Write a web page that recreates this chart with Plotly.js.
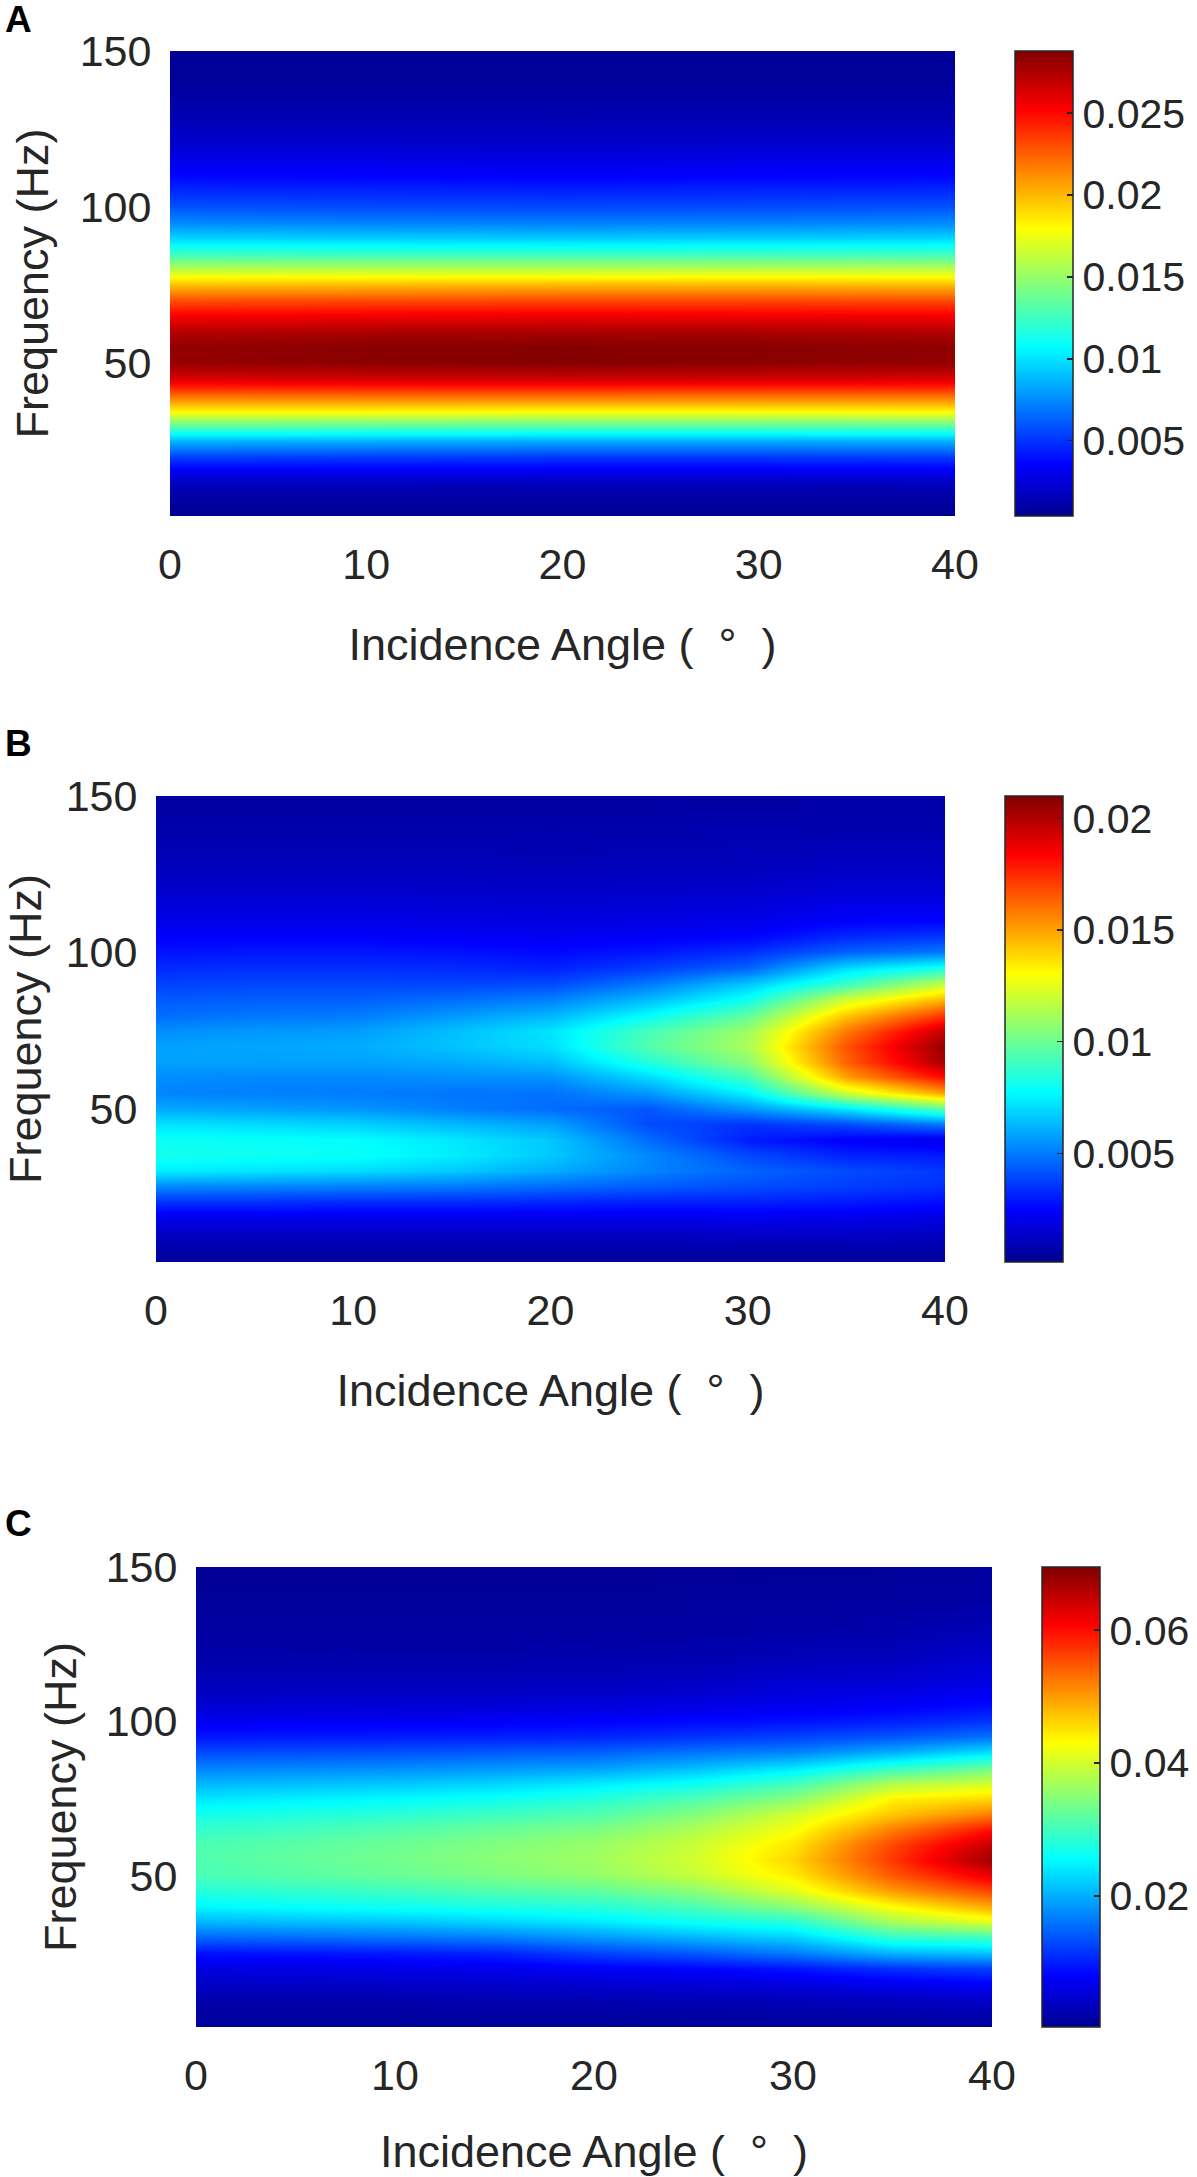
<!DOCTYPE html>
<html>
<head>
<meta charset="utf-8">
<script src="https://cdn.plot.ly/plotly-3.0.1.min.js"></script>
<style>
  html, body { margin: 0; padding: 0; background: #ffffff; }
  #chart { width: 1197px; height: 2177px; }
</style>
</head>
<body>
<div id="chart"></div>
<script>
// ---------------- DATA ----------------
const freqs = [1,5,10,15,20,25,30,35,40,45,50,55,60,65,70,75,80,85,90,95,100,105,110,120,130,140,150];

// Panel A : angles 0,10,20,30,40 ; each list = values along freqs
const anglesA = [0,10,20,30,40];
const A_0deg  = [0.0005,0.0008,0.0014,0.0030,0.0053,0.0086,0.0133,0.0185,0.0225,0.0262,0.0281,0.0283,0.0273,0.0254,0.0231,0.0199,0.0160,0.0125,0.0096,0.0075,0.0059,0.0047,0.0037,0.0022,0.0013,0.0008,0.0006];
const A_10deg = [0.0005,0.0008,0.0014,0.0030,0.0052,0.0085,0.0132,0.0185,0.0226,0.0264,0.0284,0.0286,0.0276,0.0256,0.0232,0.0200,0.0160,0.0124,0.0094,0.0073,0.0057,0.0046,0.0036,0.0022,0.0013,0.0008,0.0006];
const A_20deg = [0.0005,0.0008,0.0014,0.0029,0.0051,0.0084,0.0131,0.0184,0.0226,0.0265,0.0286,0.0287,0.0277,0.0257,0.0233,0.0201,0.0160,0.0124,0.0093,0.0072,0.0056,0.0045,0.0035,0.0021,0.0013,0.0008,0.0006];
const A_30deg = [0.0005,0.0008,0.0014,0.0029,0.0051,0.0084,0.0131,0.0184,0.0225,0.0264,0.0284,0.0286,0.0276,0.0256,0.0233,0.0201,0.0161,0.0125,0.0094,0.0073,0.0057,0.0046,0.0036,0.0022,0.0013,0.0008,0.0006];
const A_40deg = [0.0005,0.0008,0.0014,0.0030,0.0052,0.0085,0.0132,0.0185,0.0225,0.0262,0.0282,0.0284,0.0274,0.0255,0.0232,0.0200,0.0161,0.0126,0.0096,0.0075,0.0059,0.0047,0.0037,0.0022,0.0013,0.0008,0.0006];

// Panel B : angles 0..40 step 5
const anglesBC = [0,5,10,15,20,25,30,35,40];
const B_0deg  = [0.0004,0.0007,0.0012,0.0020,0.0033,0.0052,0.0074,0.0081,0.0080,0.0072,0.0060,0.0052,0.0054,0.0058,0.0058,0.0054,0.0047,0.0043,0.0038,0.0033,0.0028,0.0024,0.0020,0.0014,0.0010,0.0007,0.0005];
const B_5deg  = [0.0004,0.0007,0.0012,0.0020,0.0033,0.0051,0.0072,0.0080,0.0079,0.0070,0.0058,0.0051,0.0053,0.0058,0.0059,0.0056,0.0049,0.0044,0.0039,0.0034,0.0029,0.0024,0.0020,0.0014,0.0010,0.0007,0.0005];
const B_10deg = [0.0004,0.0007,0.0012,0.0020,0.0032,0.0050,0.0070,0.0079,0.0078,0.0068,0.0056,0.0050,0.0053,0.0058,0.0060,0.0057,0.0050,0.0044,0.0039,0.0034,0.0029,0.0024,0.0020,0.0014,0.0010,0.0007,0.0005];
const B_15deg = [0.0004,0.0007,0.0012,0.0020,0.0032,0.0049,0.0066,0.0074,0.0073,0.0063,0.0051,0.0049,0.0054,0.0060,0.0065,0.0064,0.0056,0.0047,0.0039,0.0033,0.0028,0.0023,0.0019,0.0013,0.0010,0.0007,0.0005];
const B_20deg = [0.0004,0.0007,0.0012,0.0020,0.0031,0.0046,0.0060,0.0066,0.0066,0.0058,0.0047,0.0048,0.0055,0.0064,0.0071,0.0072,0.0062,0.0051,0.0040,0.0031,0.0026,0.0022,0.0018,0.0013,0.0009,0.0007,0.0005];
const B_25deg = [0.0004,0.0007,0.0012,0.0020,0.0030,0.0043,0.0052,0.0053,0.0047,0.0040,0.0042,0.0056,0.0070,0.0085,0.0095,0.0092,0.0078,0.0063,0.0050,0.0037,0.0029,0.0023,0.0019,0.0013,0.0010,0.0007,0.0005];
const B_30deg = [0.0004,0.0007,0.0013,0.0021,0.0030,0.0040,0.0045,0.0040,0.0030,0.0035,0.0055,0.0075,0.0092,0.0106,0.0113,0.0110,0.0097,0.0080,0.0066,0.0045,0.0034,0.0025,0.0020,0.0014,0.0010,0.0008,0.0005];
const B_35deg = [0.0004,0.0007,0.0013,0.0020,0.0029,0.0037,0.0040,0.0032,0.0023,0.0040,0.0072,0.0120,0.0150,0.0163,0.0166,0.0158,0.0142,0.0120,0.0090,0.0070,0.0045,0.0033,0.0024,0.0016,0.0011,0.0008,0.0006];
const B_40deg = [0.0004,0.0007,0.0012,0.0018,0.0026,0.0034,0.0036,0.0030,0.0020,0.0050,0.0095,0.0150,0.0182,0.0202,0.0206,0.0196,0.0172,0.0145,0.0118,0.0082,0.0050,0.0036,0.0025,0.0016,0.0011,0.0008,0.0006];

// Panel C : angles 0..40 step 5
const C_0deg  = [0.0010,0.0015,0.0024,0.0040,0.0060,0.0090,0.0150,0.0205,0.0250,0.0280,0.0305,0.0310,0.0308,0.0290,0.0268,0.0240,0.0205,0.0170,0.0130,0.0095,0.0070,0.0050,0.0036,0.0022,0.0015,0.0011,0.0008];
const C_5deg  = [0.0010,0.0015,0.0025,0.0041,0.0062,0.0093,0.0155,0.0210,0.0257,0.0288,0.0315,0.0322,0.0318,0.0300,0.0276,0.0247,0.0210,0.0173,0.0133,0.0097,0.0071,0.0051,0.0037,0.0022,0.0015,0.0011,0.0008];
const C_10deg = [0.0010,0.0015,0.0025,0.0042,0.0064,0.0097,0.0160,0.0215,0.0263,0.0297,0.0326,0.0334,0.0330,0.0312,0.0285,0.0254,0.0216,0.0177,0.0136,0.0099,0.0072,0.0052,0.0037,0.0023,0.0015,0.0011,0.0008];
const C_15deg = [0.0010,0.0016,0.0026,0.0044,0.0068,0.0103,0.0168,0.0225,0.0273,0.0310,0.0340,0.0350,0.0345,0.0327,0.0298,0.0265,0.0225,0.0184,0.0141,0.0102,0.0074,0.0053,0.0038,0.0023,0.0015,0.0011,0.0008];
const C_20deg = [0.0010,0.0016,0.0028,0.0048,0.0075,0.0125,0.0185,0.0240,0.0280,0.0320,0.0355,0.0365,0.0360,0.0340,0.0310,0.0282,0.0240,0.0190,0.0146,0.0105,0.0078,0.0057,0.0040,0.0024,0.0016,0.0011,0.0008];
const C_25deg = [0.0011,0.0017,0.0030,0.0052,0.0082,0.0140,0.0205,0.0262,0.0305,0.0350,0.0390,0.0400,0.0395,0.0375,0.0345,0.0310,0.0262,0.0210,0.0160,0.0115,0.0085,0.0062,0.0044,0.0026,0.0017,0.0012,0.0008];
const C_30deg = [0.0011,0.0018,0.0033,0.0058,0.0095,0.0165,0.0225,0.0280,0.0350,0.0410,0.0443,0.0460,0.0450,0.0425,0.0400,0.0350,0.0300,0.0240,0.0170,0.0125,0.0090,0.0068,0.0055,0.0032,0.0020,0.0013,0.0009];
const C_35deg = [0.0012,0.0020,0.0038,0.0068,0.0115,0.0205,0.0290,0.0370,0.0430,0.0500,0.0545,0.0570,0.0560,0.0520,0.0470,0.0440,0.0375,0.0290,0.0200,0.0140,0.0100,0.0075,0.0058,0.0035,0.0022,0.0014,0.0010];
const C_40deg = [0.0014,0.0024,0.0045,0.0075,0.0125,0.0215,0.0300,0.0410,0.0490,0.0560,0.0620,0.0675,0.0650,0.0595,0.0520,0.0460,0.0400,0.0330,0.0235,0.0160,0.0115,0.0088,0.0068,0.0048,0.0030,0.0018,0.0012];

// Colour limits and colourbar ticks
const climA = [0.0004, 0.0288];
const climB = [0.00013, 0.0210];
const climC = [0.0003, 0.0695];
const cbTicksA = [0.005, 0.01, 0.015, 0.02, 0.025];
const cbTicksB = [0.005, 0.01, 0.015, 0.02];
const cbTicksC = [0.02, 0.04, 0.06];
const xTicks = [0, 10, 20, 30, 40];
const yTicks = [50, 100, 150];
const xTitle = 'Incidence Angle (\u00a0 °\u00a0 )';
const yTitle = 'Frequency (Hz)';
const panelLetters = ['A', 'B', 'C'];

// ---------------- BUILD ----------------
function toZ(cols) { // cols[j][i] -> z[i][j]
  return freqs.map((_, i) => cols.map(c => c[i]));
}
const zA = toZ([A_0deg, A_10deg, A_20deg, A_30deg, A_40deg]);
const zB = toZ([B_0deg, B_5deg, B_10deg, B_15deg, B_20deg, B_25deg, B_30deg, B_35deg, B_40deg]);
const zC = toZ([C_0deg, C_5deg, C_10deg, C_15deg, C_20deg, C_25deg, C_30deg, C_35deg, C_40deg]);

const jet = [
  [0.000, 'rgb(0,0,143)'],
  [0.111, 'rgb(0,0,255)'],
  [0.365, 'rgb(0,255,255)'],
  [0.619, 'rgb(255,255,0)'],
  [0.873, 'rgb(255,0,0)'],
  [1.000, 'rgb(128,0,0)']
];

const W = 1197, H = 2177;
const FONT = 'Liberation Sans, Arial, Helvetica, sans-serif';
const TXT = '#262626';

// pixel boxes of each panel: plot [left,right,top,bottom], colorbar left
const boxes = [
  {l:170, r:955, t:51,   b:516,  cb:1015, yt:16, letterY:20},
  {l:156, r:945, t:796,  b:1262, cb:1005, yt:11, letterY:743},
  {l:196, r:992, t:1567, b:2027, cb:1042, yt:14, letterY:1523}
];
const zs = [zA, zB, zC];
const xs = [anglesA, anglesBC, anglesBC];
const clims = [climA, climB, climC];
const cbt = [cbTicksA, cbTicksB, cbTicksC];

const data = [];
const layout = {
  width: W, height: H,
  margin: {l:0, r:0, t:0, b:0},
  paper_bgcolor: '#ffffff',
  plot_bgcolor: '#ffffff',
  font: {family: FONT, color: TXT},
  showlegend: false,
  annotations: []
};

boxes.forEach((bx, k) => {
  const n = k === 0 ? '' : String(k + 1);
  const cbTop = bx.t, cbBot = bx.b;
  data.push({
    type: 'heatmap',
    x: xs[k], y: freqs, z: zs[k],
    xaxis: 'x' + n, yaxis: 'y' + n,
    colorscale: jet,
    zmin: clims[k][0], zmax: clims[k][1],
    zsmooth: 'best',
    hoverinfo: 'skip',
    colorbar: {
      x: bx.cb / W, xanchor: 'left', xref: 'paper',
      y: 1 - (cbTop + cbBot) / 2 / H, yanchor: 'middle', yref: 'paper',
      len: cbBot - cbTop, lenmode: 'pixels',
      thickness: 58, thicknessmode: 'pixels',
      xpad: 0, ypad: 0,
      outlinewidth: 1.5, outlinecolor: TXT,
      tickvals: cbt[k], ticktext: cbt[k].map(v => String(v)),
      ticks: 'inside', ticklen: 6, tickcolor: TXT, tickwidth: 1.5,
      tickfont: {family: FONT, size: 41, color: TXT}
    }
  });
  layout['xaxis' + n] = {
    domain: [bx.l / W, bx.r / W],
    anchor: 'y' + n,
    range: [0, 40],
    tickmode: 'array', tickvals: xTicks,
    ticks: 'outside', ticklen: 10, tickcolor: 'rgba(0,0,0,0)',
    showline: false, zeroline: false, showgrid: false,
    tickfont: {family: FONT, size: 43, color: TXT},
    title: {text: xTitle, font: {family: FONT, size: 45, color: TXT}, standoff: 41}
  };
  layout['yaxis' + n] = {
    domain: [1 - bx.b / H, 1 - bx.t / H],
    anchor: 'x' + n,
    range: [1, 150],
    tickmode: 'array', tickvals: yTicks,
    ticks: 'outside', ticklen: 9, tickcolor: 'rgba(0,0,0,0)',
    showline: false, zeroline: false, showgrid: false,
    tickfont: {family: FONT, size: 43, color: TXT},
    title: {text: yTitle, font: {family: FONT, size: 45, color: TXT}, standoff: bx.yt}
  };
  layout.annotations.push({
    text: '<b>' + panelLetters[k] + '</b>',
    xref: 'paper', yref: 'paper',
    x: 3 / W, y: 1 - bx.letterY / H,
    xanchor: 'left', yanchor: 'middle',
    showarrow: false,
    font: {family: FONT, size: 37, color: '#000000'}
  });
});

Plotly.newPlot('chart', data, layout, {staticPlot: true, displayModeBar: false});
</script>
</body>
</html>
